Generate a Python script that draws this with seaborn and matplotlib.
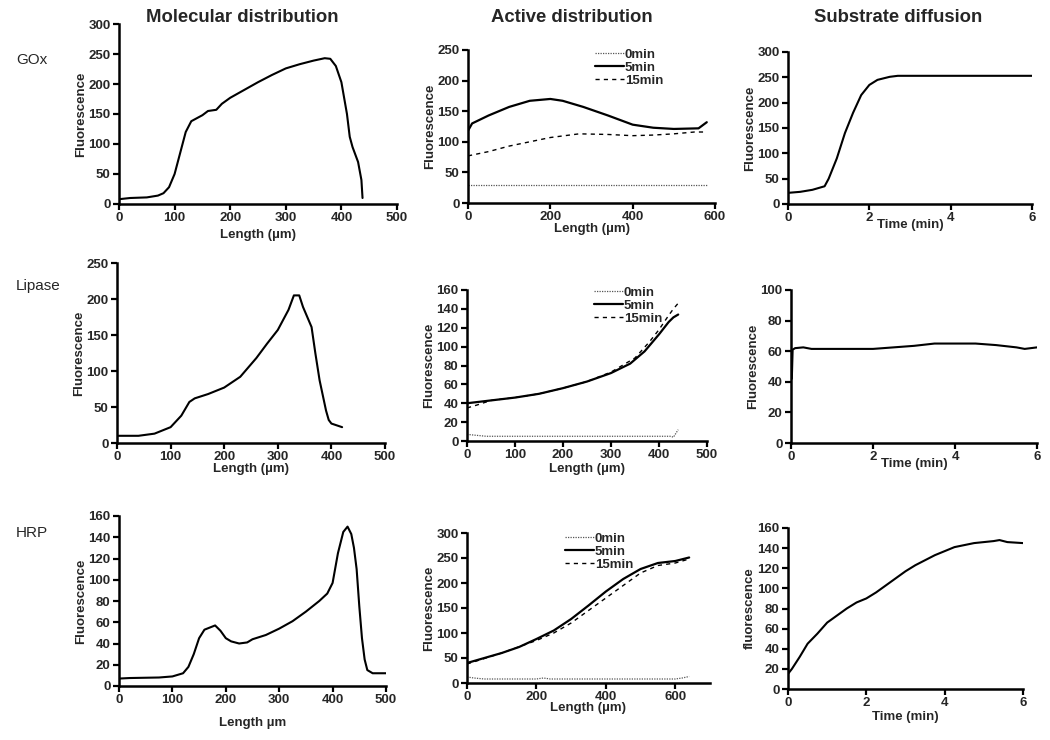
import matplotlib
matplotlib.use("Agg")
import matplotlib.pyplot as plt
import seaborn as sns

sns.set_theme(style="ticks")
plt.rcParams['font.family'] = ['Liberation Sans', 'DejaVu Sans']
plt.rcParams['font.weight'] = 'bold'

W, H = 1050, 740

# ---- GOx ----
gox_mol_x = [0, 20, 50, 70, 80, 90, 100, 110, 120, 130, 140, 150, 160, 175, 185, 200, 225, 250, 275,
             300, 325, 350, 370, 380, 390, 400, 410, 415, 420, 430, 436, 438]
gox_mol_y = [8, 10, 11, 14, 18, 28, 50, 85, 120, 138, 143, 148, 155, 157, 167, 177, 190, 203, 215,
             226, 233, 239, 243, 242, 230, 203, 150, 112, 95, 70, 40, 10]

gox_act_x0 = [0, 580]
gox_act_y0 = [30, 30]
gox_act_x5 = [0, 10, 50, 100, 150, 200, 230, 280, 340, 400, 450, 500, 560, 580]
gox_act_y5 = [118, 130, 143, 157, 167, 170, 167, 157, 143, 128, 123, 121, 122, 132]
gox_act_x15 = [0, 50, 100, 150, 200, 270, 340, 400, 450, 500, 550, 580]
gox_act_y15 = [77, 84, 93, 100, 107, 113, 112, 110, 111, 113, 116, 116]

gox_sub_t = [0, 0.3, 0.6, 0.9, 1.0, 1.2, 1.4, 1.6, 1.8, 2.0, 2.2, 2.5, 2.7, 4.3, 6.0]
gox_sub_y = [22, 24, 28, 35, 50, 90, 140, 180, 215, 235, 245, 251, 253, 253, 253]

# ---- Lipase ----
lip_mol_x = [0, 40, 70, 100, 120, 135, 145, 170, 200, 230, 260, 280, 300, 320, 330, 340, 347, 363,
             370, 378, 390, 395, 400, 420]
lip_mol_y = [10, 10, 13, 22, 38, 57, 62, 68, 77, 92, 118, 138, 157, 185, 205, 205, 189, 161,
             125, 87, 45, 32, 27, 22]

lip_act_x0 = [0, 20, 40, 425, 430, 440]
lip_act_y0 = [7, 6, 5, 5, 4, 12]
lip_act_x5 = [0, 50, 100, 150, 200, 250, 300, 340, 370, 400, 420, 430, 440]
lip_act_y5 = [40, 43, 46, 50, 56, 63, 72, 82, 95, 113, 126, 131, 134]
lip_act_x15 = [0, 20, 50, 100, 150, 200, 250, 300, 350, 380, 400, 420, 430, 440]
lip_act_y15 = [35, 38, 43, 46, 50, 56, 63, 73, 88, 105, 118, 133, 140, 146]

lip_sub_t = [0.02, 0.04, 0.1, 0.3, 0.5, 1.0, 1.5, 2.0, 2.5, 3.0, 3.5, 4.0, 4.5, 5.0, 5.5, 5.7, 6.0]
lip_sub_y = [42, 61, 62, 62.5, 61.5, 61.5, 61.5, 61.5, 62.5, 63.5, 65, 65, 65, 64, 62.5, 61.5, 62.5]

# ---- HRP ----
hrp_mol_x = [0, 20, 75, 100, 120, 130, 140, 150, 160, 170, 180, 190, 200, 210, 225, 240, 250, 275,
             300, 325, 350, 375, 390, 400, 410, 420, 428, 435, 440, 445, 450, 455, 460, 465, 475, 500]
hrp_mol_y = [7, 7.5, 8, 9, 12, 18, 30, 45, 53, 55, 57, 52, 45, 42, 40, 41, 44, 48,
             54, 61, 70, 80, 87, 97, 125, 145, 150, 143, 130, 110, 75, 45, 25, 15, 12, 12]

hrp_act_x0 = [0, 20, 50, 200, 220, 240, 600, 620, 640]
hrp_act_y0 = [12, 10, 8, 8, 10, 8, 8, 10, 13]
hrp_act_x5 = [0, 50, 100, 150, 200, 250, 300, 350, 400, 450, 500, 550, 600, 640]
hrp_act_y5 = [40, 50, 60, 72, 88, 105, 128, 155, 183, 208, 228, 240, 244, 251]
hrp_act_x15 = [0, 100, 200, 250, 300, 350, 400, 450, 500, 550, 600, 640]
hrp_act_y15 = [38, 60, 85, 100, 120, 145, 170, 195, 220, 235, 240, 248]

hrp_sub_t = [0, 0.1, 0.3, 0.5, 0.75, 1.0, 1.25, 1.5, 1.75, 2.0, 2.25, 2.5, 2.75, 3.0, 3.25, 3.5,
             3.75, 4.0, 4.25, 4.5, 4.75, 5.0, 5.25, 5.4, 5.6, 6.0]
hrp_sub_y = [15, 20, 32, 45, 55, 66, 73, 80, 86, 90, 96, 103, 110, 117, 123, 128,
             133, 137, 141, 143, 145, 146, 147, 148, 146, 145]

col_titles = ["Molecular distribution", "Active distribution", "Substrate diffusion"]
row_labels = ["GOx", "Lipase", "HRP"]

fig = plt.figure(figsize=(W / 100, H / 100), dpi=100)


def make_ax(l, r, t, b):
    # axes rect from pixel edges
    return fig.add_axes([l / W, 1 - b / H, (r - l) / W, (b - t) / H])


def style(ax, xlim, xticks, ylim, yticks, xlabel, ylabel, xlabelpad=1):
    ax.set_xlim(*xlim)
    ax.set_ylim(*ylim)
    ax.set_xticks(xticks)
    ax.set_yticks(yticks)
    ax.set_xlabel(xlabel, fontsize=9.5, fontweight='bold', labelpad=xlabelpad)
    ax.set_ylabel(ylabel, fontsize=9.5, fontweight='bold', labelpad=1)
    ax.tick_params(labelsize=9.5, width=1.6, length=4, direction='out', pad=2, color='black')
    for lab in ax.get_xticklabels() + ax.get_yticklabels():
        lab.set_fontweight('bold')
    for s in ['top', 'right']:
        ax.spines[s].set_visible(False)
    for s in ['left', 'bottom']:
        ax.spines[s].set_linewidth(1.8)
        ax.spines[s].set_color('black')
    ax.grid(False)


def line(ax, x, y, kind=None):
    if kind == "0min":
        sns.lineplot(x=x, y=y, ax=ax, color='#555555', lw=0.9, linestyle=(0, (1, 1)),
                     sort=False, estimator=None, label=kind)
    elif kind == "5min":
        sns.lineplot(x=x, y=y, ax=ax, color='black', lw=1.6, sort=False, estimator=None, label=kind)
    elif kind == "15min":
        sns.lineplot(x=x, y=y, ax=ax, color='black', lw=1.0, linestyle=(0, (3, 3)),
                     sort=False, estimator=None, label=kind)
    else:
        sns.lineplot(x=x, y=y, ax=ax, color='black', lw=1.5, sort=False, estimator=None)


def legend(ax, x, y):
    ax.legend(loc='upper left', bbox_to_anchor=(x / W, 1 - y / H), bbox_transform=fig.transFigure,
              frameon=False, handlelength=2.2, handletextpad=0.1, labelspacing=0.05,
              borderpad=0, prop={'weight': 'bold', 'size': 9.5})


# Row 1: GOx
ax = make_ax(119, 397, 24, 204)
line(ax, gox_mol_x, gox_mol_y)
style(ax, (0, 500), range(0, 501, 100), (0, 300), range(0, 301, 50), "Length (\u00b5m)", "Fluorescence",
      xlabelpad=3)

ax = make_ax(468, 715, 50, 203)
line(ax, gox_act_x0, gox_act_y0, "0min")
line(ax, gox_act_x5, gox_act_y5, "5min")
line(ax, gox_act_x15, gox_act_y15, "15min")
style(ax, (0, 600), range(0, 601, 200), (0, 250), range(0, 251, 50), "Length (\u00b5m)", "Fluorescence",
      xlabelpad=0)
legend(ax, 588, 42)

ax = make_ax(788, 1032, 52, 204)
line(ax, gox_sub_t, gox_sub_y)
style(ax, (0, 6), range(0, 7, 2), (0, 300), range(0, 301, 50), "Time (min)", "Fluorescence",
      xlabelpad=-4)

# Row 2: Lipase
ax = make_ax(117, 385, 263, 443)
line(ax, lip_mol_x, lip_mol_y)
style(ax, (0, 500), range(0, 501, 100), (0, 250), range(0, 251, 50), "Length (\u00b5m)", "Fluorescence",
      xlabelpad=0)

ax = make_ax(467, 707, 290, 441)
line(ax, lip_act_x0, lip_act_y0, "0min")
line(ax, lip_act_x5, lip_act_y5, "5min")
line(ax, lip_act_x15, lip_act_y15, "15min")
style(ax, (0, 500), range(0, 501, 100), (0, 160), range(0, 161, 20), "Length (\u00b5m)", "Fluorescence")
legend(ax, 587, 280)

ax = make_ax(791, 1037, 290, 443)
line(ax, lip_sub_t, lip_sub_y)
style(ax, (0, 6), range(0, 7, 2), (0, 100), range(0, 101, 20), "Time (min)", "Fluorescence",
      xlabelpad=-4)

# Row 3: HRP
ax = make_ax(119, 386, 516, 686)
line(ax, hrp_mol_x, hrp_mol_y)
style(ax, (0, 500), range(0, 501, 100), (0, 160), range(0, 161, 20), "Length \u00b5m", "Fluorescence",
      xlabelpad=8)

ax = make_ax(467, 710, 533, 683)
line(ax, hrp_act_x0, hrp_act_y0, "0min")
line(ax, hrp_act_x5, hrp_act_y5, "5min")
line(ax, hrp_act_x15, hrp_act_y15, "15min")
style(ax, (0, 700), range(0, 601, 200), (0, 300), range(0, 301, 50), "Length (\u00b5m)", "Fluorescence",
      xlabelpad=-1)
legend(ax, 558, 526)

ax = make_ax(788, 1023, 528, 689)
line(ax, hrp_sub_t, hrp_sub_y)
style(ax, (0, 6), range(0, 7, 2), (0, 160), range(0, 161, 20), "Time (min)", "fluorescence",
      xlabelpad=1)

# column titles and row labels
for title, xc in zip(col_titles, [242, 572, 898]):
    fig.text(xc / W, 1 - 18 / H, title, ha='center', va='center', fontsize=13.3, fontweight='bold')
for lab, yc in zip(row_labels, [60, 286, 533]):
    fig.text(16 / W, 1 - yc / H, lab, ha='left', va='center', fontsize=11, fontweight='normal')

fig.savefig("out.png", dpi=100)
